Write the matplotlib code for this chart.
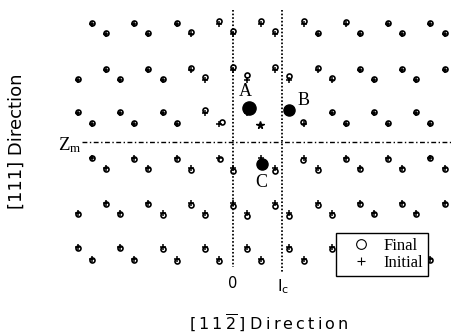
"""Atomic positions near a dislocation core: initial (+) versus relaxed final (o) sites."""

import matplotlib.pyplot as plt
from matplotlib.lines import Line2D

# -----------------------------
# Data (units: lattice length along [11-2] / 3)
# -----------------------------
ROW_Y = [8.37, 7.66, 5.11, 4.40, 2.06, 1.28, -1.13, -1.84, -4.33, -5.04, -7.45, -8.30]

ROW_X = [
    [-10, -7, -4, -1, 2, 5, 8, 11, 14],
    [-9, -6, -3, 0, 3, 6, 9, 12, 15],
    [-9, -6, -3, 0, 3, 6, 9, 12, 15],
    [-11, -8, -5, -2, 1, 4, 7, 10, 13],
    [-11, -8, -5, -2, 7, 10, 13],
    [-10, -7, -4, -1, 5, 8, 11, 14],
    [-10, -7, -4, -1, 5, 8, 11, 14],
    [-9, -6, -3, 0, 3, 6, 9, 12, 15],
    [-9, -6, -3, 0, 3, 6, 9, 12, 15],
    [-11, -8, -5, -2, 1, 4, 7, 10, 13],
    [-11, -8, -5, -2, 1, 4, 7, 10, 13],
    [-10, -7, -4, -1, 2, 5, 8, 11, 14],
]

# displacement of the final site from the initial site
ROW_DY = [
    [0.07, 0.07, 0.10, 0.18, 0.18, 0.18, 0.14, 0.07, 0.07],
    [0.10, 0.10, 0.14, 0.21, 0.18, 0.10, 0.07, 0.07, 0.07],
    [0.07, 0.07, 0.14, 0.21, 0.21, 0.14, 0.07, 0.04, 0.04],
    [0.04, 0.07, 0.10, 0.18, 0.32, 0.28, 0.14, 0.10, 0.07],
    [0.04, 0.07, 0.10, 0.21, 0.10, 0.07, 0.07],
    [0.04, 0.07, 0.10, 0.14, 0.14, 0.10, 0.07, 0.07],
    [-0.04, -0.07, -0.10, -0.10, -0.14, -0.10, -0.07, -0.04],
    [-0.07, -0.10, -0.14, -0.25, -0.21, -0.14, -0.10, -0.07, -0.07],
    [-0.07, -0.10, -0.14, -0.21, -0.18, -0.14, -0.10, -0.07, -0.07],
    [-0.04, -0.07, -0.14, -0.14, -0.18, -0.18, -0.14, -0.10, -0.07],
    [-0.04, -0.10, -0.14, -0.14, -0.14, -0.14, -0.14, -0.10, -0.07],
    [-0.07, -0.10, -0.14, -0.14, -0.14, -0.14, -0.10, -0.07, -0.07],
]
ROW_DX = [[0.0] * len(r) for r in ROW_X]
ROW_DX[5][3], ROW_DX[5][4] = 0.20, -0.07
ROW_DX[6][3], ROW_DX[6][4] = 0.07, -0.07

# core atoms A, B, C
CORE_LABELS = ["A", "B", "C"]
CORE_INIT_X = [1, 4, 2]
CORE_INIT_Y = [2.06, 2.06, -1.13]
CORE_FINAL_X = [1.13, 3.97, 2.06]
CORE_FINAL_Y = [2.41, 2.27, -1.56]

STAR_X = [1.91]
STAR_Y = [1.21]

ORIGIN_X = 0.0
LC_X = 3.48
ZM_Y = 0.0

PX = 14.1  # pixels per unit
SANS = "DejaVu Sans"
SERIF = "Liberation Serif"


def main():
    fig = plt.figure(figsize=(4.51, 3.33), dpi=100)
    ax = fig.add_axes([0, 0, 1, 1])
    ax.set_xlim(-233 / PX, 218 / PX)
    ax.set_ylim(-191 / PX, 142 / PX)
    ax.axis("off")

    init_x, init_y, fin_x, fin_y = [], [], [], []
    for y, xs, dxs, dys in zip(ROW_Y, ROW_X, ROW_DX, ROW_DY):
        for x, dx, dy in zip(xs, dxs, dys):
            init_x.append(x)
            init_y.append(y)
            fin_x.append(x + dx)
            fin_y.append(y + dy)

    # reference lines
    ax.plot([ORIGIN_X, ORIGIN_X], [9.36, -8.9], color="k", lw=1.3, ls=(0, (0.9, 1.1)))
    ax.plot([LC_X, LC_X], [9.36, -9.3], color="k", lw=1.3, ls=(0, (0.9, 1.1)))
    ax.plot([-10.7, 15.5], [ZM_Y, ZM_Y], color="k", lw=1.0, ls=(0, (3.5, 1.8, 1, 1.8)))

    ax.plot(init_x, init_y, "+", color="k", ms=4.0, mew=1.1)
    ax.plot(fin_x, fin_y, "o", mfc="none", mec="k", ms=3.6, mew=1.2)

    ax.plot(CORE_INIT_X, CORE_INIT_Y, "+", color="k", ms=4.0, mew=1.1)
    sizes = [9.5, 8.0, 8.0]
    for x, y, s in zip(CORE_FINAL_X, CORE_FINAL_Y, sizes):
        ax.plot(x, y, "o", color="k", ms=s)
    offsets = [(-0.28, 1.14), (1.0, 0.7), (-0.07, -1.28)]
    for lab, x, y, (ox, oy) in zip(CORE_LABELS, CORE_FINAL_X, CORE_FINAL_Y, offsets):
        ax.text(x + ox, y + oy, lab, family=SERIF, fontsize=13, ha="center", va="center")

    ax.plot(STAR_X, STAR_Y, "*", color="k", ms=5.5)

    # line labels
    ax.text(-10.72, -0.57, r"$\mathregular{Z_m}$", family=SERIF, fontsize=13.5,
            ha="right", va="baseline")
    ax.text(ORIGIN_X, -10.35, "0", family=SANS, fontsize=10.5, ha="center", va="baseline")
    ax.text(LC_X + 0.05, -10.6, r"$\mathregular{l_c}$", family=SANS, fontsize=11.5,
            ha="center", va="baseline")

    # axis titles
    fig.text(17 / 451, 1 - 141 / 333, "[111] Direction", family=SANS, fontsize=13,
             rotation=90, ha="center", va="center")
    tokens = ["[", "1", "1", r"$\overline{2}$", "]", "D", "i", "r", "e", "c", "t", "i", "o", "n"]
    xlabel = "\u2009".join(tokens[:5]) + " " + "\u2009".join(tokens[5:])
    fig.text(269 / 451, 1 - 323 / 333, xlabel, family=SANS, fontsize=11.5,
             ha="center", va="center")

    handles = [
        Line2D([], [], marker="o", mfc="none", mec="k", ms=7, mew=0.8, ls="none"),
        Line2D([], [], marker="+", color="k", ms=6, mew=0.8, ls="none"),
    ]
    leg = fig.legend(handles, ["Final", "Initial"], loc="upper left",
                     bbox_to_anchor=(336 / 451, 1 - 233 / 333),
                     bbox_transform=fig.transFigure, borderaxespad=0,
                     prop={"family": SERIF, "size": 12}, frameon=True, fancybox=False,
                     framealpha=1, edgecolor="k", borderpad=0.3, handlelength=2.4,
                     handletextpad=0.15, labelspacing=0.05)
    leg.get_frame().set_linewidth(1.0)

    fig.savefig("out.png", dpi=100)
    plt.close(fig)


if __name__ == "__main__":
    main()
